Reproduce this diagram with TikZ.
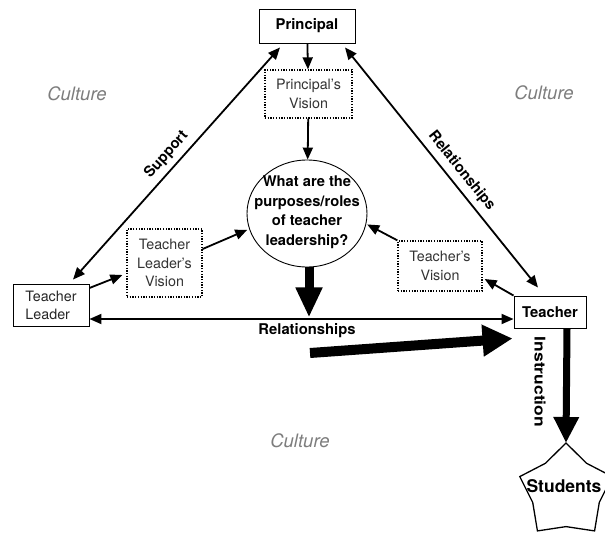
\documentclass[tikz,border=0pt]{standalone}
\usepackage{fontspec}
\usepackage{graphicx}
\setmainfont{TeX Gyre Heros}
\usetikzlibrary{arrows.meta,shapes.geometric}
\definecolor{culturegray}{RGB}{125,125,125}
\begin{document}
\begin{tikzpicture}[x=1pt,y=1pt,
  box/.style={draw, line width=0.9pt, inner sep=0pt, align=center},
  vision/.style={draw, line width=1.3pt, dash pattern=on 1.3pt off 1.4pt, inner sep=0pt, align=center,
                 font=\fontsize{14.3}{18.5}\selectfont, text=black!80},
  arr/.style={line width=1.8pt, -{Triangle[length=12pt,width=10pt]}},
  dbl/.style={line width=1.8pt, {Triangle[length=12pt,width=10pt]}-{Triangle[length=12pt,width=10pt]}},
  lbl/.style={font=\fontsize{14.8}{17}\selectfont\bfseries},
  culture/.style={font=\fontsize{18.5}{22}\selectfont\itshape, text=culturegray},
  bigarr/.style={line width=9pt, -{Triangle[length=30pt,width=25pt]}},
  bigdiag/.style={line width=10pt, -{Triangle[length=30pt,width=30pt]}},
  instrarr/.style={line width=7pt, -{Triangle[length=26pt,width=24pt]}},
]
\path[use as bounding box] (0,0) rectangle (605,-535);
\clip (0,0) rectangle (605,-535);

% nodes
\node[box, minimum width=96pt, minimum height=34pt, font=\fontsize{14.8}{17}\selectfont\bfseries]
  (principal) at (307,-26) {Principal};
\node[vision, minimum width=87pt, minimum height=48pt] (pvision) at (308.5,-94) {Principal’s\\Vision};
\node[draw, ellipse, line width=0.9pt, minimum width=120pt, minimum height=107pt, inner sep=0pt]
  (question) at (307,-213.5) {};
\node[align=center, font=\fontsize{14.7}{19.5}\selectfont\bfseries] (qtext) at (307,-212) {What are the\\purposes/roles\\of teacher\\leadership?};
\node[box, minimum width=76pt, minimum height=42pt, align=left, font=\fontsize{14.3}{18}\selectfont, text=black!85]
  (tl) at (51,-305) {Teacher\\Leader};
\node[vision, minimum width=75pt, minimum height=68pt] (tlv) at (164.5,-263) {Teacher\\Leader’s\\Vision};
\node[vision, minimum width=84pt, minimum height=50pt] (tv) at (440,-266) {Teacher’s\\Vision};
\node[box, minimum width=72pt, minimum height=32pt, font=\fontsize{14.8}{17}\selectfont\bfseries]
  (teacher) at (550,-312) {Teacher};

\node[culture] (c1) at (77,-94) {Culture};
\node[culture] (c2) at (544,-93) {Culture};
\node[culture] (c3) at (300,-441) {Culture};

% star
\coordinate (sc) at (566,-491.6);
\coordinate (startop) at (566,-443);
\draw[line width=1.3pt, line join=miter, shift={(sc)}]
  (90:48.6) -- (126:35) -- (162:48.6) -- (198:35) -- (234:48.6) -- (270:35)
  -- (306:48.6) -- (342:35) -- (18:48.6) -- (54:35) -- cycle;
\node[font=\fontsize{17.5}{20}\selectfont\bfseries] (students) at (564,-486) {Students};

% connectors
\draw[arr] (principal) -- (pvision);
\draw[arr] (pvision) -- (question);
\draw[dbl] ([xshift=22pt,yshift=4pt]tl.north) -- ([xshift=-27pt,yshift=-4pt]principal.south)
  node[lbl, midway, sloped, above=2pt] (support) {Support};
\draw[dbl] ([xshift=38pt,yshift=-4pt]principal.south) -- ([xshift=-12pt,yshift=8pt]teacher.north)
  node[lbl, pos=0.55, sloped, above=2pt] (relp) {Relationships};
\draw[arr] ([yshift=17pt]tl.east) -- ([xshift=-4pt,yshift=-12pt]tlv.west);
\draw[arr, shorten >=2pt] ([yshift=14pt]tlv.east) -- (question.195);
\draw[arr] (teacher.north west) -- ([xshift=2pt,yshift=-13pt]tv.east);
\draw[arr, shorten >=1pt] (tv.north west) -- (question.-10);
\draw[dbl] ([yshift=-14pt]tl.east) -- ([yshift=-14pt]tl.east -| teacher.west);
\node[lbl] (relh) at (307,-331) {Relationships};

\draw[bigarr] ([xshift=2pt]question.south) -- ++(0,-50);
\coordinate (bigstart) at (310,-353);
\draw[bigdiag] (bigstart) -- ([xshift=-1pt,yshift=-10pt]teacher.south west);
\draw[instrarr] ([xshift=17pt]teacher.south) -- (startop);
\node[lbl, rotate=-90] (instr) at (540,-382) {\scalebox{1.18}[1]{Instruction}};
\end{tikzpicture}
\end{document}
